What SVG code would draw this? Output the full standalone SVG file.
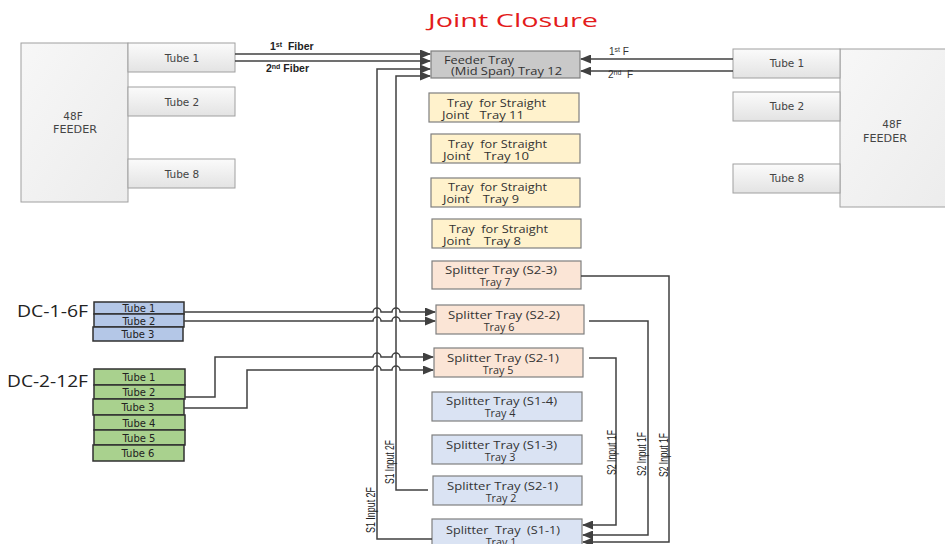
<svg xmlns="http://www.w3.org/2000/svg" width="945" height="544" viewBox="0 0 945 544">
<defs>
<linearGradient id="gGrey" x1="0" y1="0" x2="0" y2="1">
<stop offset="0" stop-color="#fbfbfb"/><stop offset="1" stop-color="#e3e3e3"/>
</linearGradient>
<linearGradient id="gBig" x1="0" y1="0" x2="1" y2="1">
<stop offset="0" stop-color="#f7f7f7"/><stop offset="1" stop-color="#ececec"/>
</linearGradient>
<marker id="arr" markerUnits="userSpaceOnUse" markerWidth="11" markerHeight="9" refX="10" refY="4.5" orient="auto">
<path d="M0,0 L11,4.5 L0,9 z" fill="#404040"/>
</marker>
</defs>
<style>
text{font-family:"Open Sans","Liberation Sans",sans-serif;fill:#333;white-space:pre}
.grey{fill:url(#gGrey);stroke:#a0a0a0;stroke-width:1}
.big{fill:url(#gBig);stroke:#a0a0a0;stroke-width:1}
.gt{font-family:"DejaVu Sans",sans-serif;font-size:10.5px;fill:#444;text-anchor:middle}
.tr{stroke:#7f7f7f;stroke-width:1.2}
.ft{fill:#c9c9c9}
.yl{fill:#fff2cc}
.pc{fill:#fbe5d6}
.bl{fill:#dae3f3}
.tt{font-size:10.8px;fill:#333}
.ttc{font-size:10.8px;fill:#333;text-anchor:middle}
.dc1{fill:#b4c7e7;stroke:#303030;stroke-width:1.5}
.dc2{fill:#a9d18e;stroke:#303030;stroke-width:1.5}
.dt{font-family:"DejaVu Sans",sans-serif;font-size:10px;fill:#222;text-anchor:middle}
.dl{font-size:17px;fill:#222}
.lna{fill:none;stroke:#404040;stroke-width:1.5;marker-end:url(#arr)}
.fl{font-family:"Liberation Sans",sans-serif;font-size:10.5px;font-weight:bold;fill:#222}
.fr{font-family:"Liberation Sans",sans-serif;font-size:10px;fill:#333}
.vl{font-family:"Liberation Sans",sans-serif;font-size:12px;fill:#222}
</style>

<text x="513" y="27" text-anchor="middle" font-size="19" style="fill:#e31b1b" textLength="170" lengthAdjust="spacingAndGlyphs">Joint Closure</text>

<g id="feeder-left">
<rect x="21" y="43" width="107" height="159" class="big"/>
<text x="73" y="120" class="gt">48F</text>
<text x="75" y="133" class="gt" textLength="44" lengthAdjust="spacingAndGlyphs">FEEDER</text>
</g>
<g id="left-tube1"><rect x="128" y="43" width="107" height="29" class="grey"/><text x="182" y="62" class="gt">Tube 1</text></g>
<g id="left-tube2"><rect x="128" y="87" width="107" height="29" class="grey"/><text x="182" y="106" class="gt">Tube 2</text></g>
<g id="left-tube8"><rect x="128" y="159" width="107" height="29" class="grey"/><text x="182" y="178" class="gt">Tube 8</text></g>

<g id="feeder-right">
<rect x="840" y="49" width="110" height="158" class="big"/>
<text x="892" y="128" class="gt">48F</text>
<text x="885" y="142" class="gt" textLength="44" lengthAdjust="spacingAndGlyphs">FEEDER</text>
</g>
<g id="right-tube1"><rect x="733" y="49" width="107" height="29" class="grey"/><text x="787" y="67" class="gt">Tube 1</text></g>
<g id="right-tube2"><rect x="733" y="92" width="107" height="29" class="grey"/><text x="787" y="110" class="gt">Tube 2</text></g>
<g id="right-tube8"><rect x="733" y="164" width="107" height="29" class="grey"/><text x="787" y="182" class="gt">Tube 8</text></g>

<g id="tray12"><rect x="431" y="51" width="149" height="27" class="tr ft"/>
<text x="444" y="64" class="tt" textLength="70" lengthAdjust="spacingAndGlyphs">Feeder Tray</text>
<text x="451" y="75" class="tt" textLength="111" lengthAdjust="spacingAndGlyphs">(Mid Span) Tray 12</text></g>

<g id="tray11"><rect x="429" y="93" width="150" height="29" class="tr yl"/>
<text x="447" y="107" class="tt" textLength="99" lengthAdjust="spacingAndGlyphs">Tray  for Straight</text>
<text x="442" y="119" class="tt" textLength="82" lengthAdjust="spacingAndGlyphs">Joint   Tray 11</text></g>
<g id="tray10"><rect x="431" y="134" width="149" height="29" class="tr yl"/>
<text x="448" y="148" class="tt" textLength="99" lengthAdjust="spacingAndGlyphs">Tray  for Straight</text>
<text x="443" y="160" class="tt" textLength="86" lengthAdjust="spacingAndGlyphs">Joint    Tray 10</text></g>
<g id="tray9"><rect x="431" y="178" width="149" height="29" class="tr yl"/>
<text x="448" y="191" class="tt" textLength="99" lengthAdjust="spacingAndGlyphs">Tray  for Straight</text>
<text x="443" y="203" class="tt" textLength="76" lengthAdjust="spacingAndGlyphs">Joint    Tray 9</text></g>
<g id="tray8"><rect x="432" y="219" width="149" height="29" class="tr yl"/>
<text x="449" y="233" class="tt" textLength="99" lengthAdjust="spacingAndGlyphs">Tray  for Straight</text>
<text x="443" y="245" class="tt" textLength="78" lengthAdjust="spacingAndGlyphs">Joint    Tray 8</text></g>

<g id="tray7"><rect x="432" y="261" width="149" height="28" class="tr pc"/>
<text x="445" y="274" class="tt" textLength="112" lengthAdjust="spacingAndGlyphs">Splitter Tray (S2-3)</text>
<text x="495" y="286" class="ttc">Tray 7</text></g>
<g id="tray6"><rect x="436" y="305" width="148" height="29" class="tr pc"/>
<text x="448" y="319" class="tt" textLength="112" lengthAdjust="spacingAndGlyphs">Splitter Tray (S2-2)</text>
<text x="499" y="331" class="ttc">Tray 6</text></g>
<g id="tray5"><rect x="434" y="348" width="149" height="29" class="tr pc"/>
<text x="447" y="362" class="tt" textLength="112" lengthAdjust="spacingAndGlyphs">Splitter Tray (S2-1)</text>
<text x="498" y="374" class="ttc">Tray 5</text></g>
<g id="tray4"><rect x="432" y="392" width="150" height="29" class="tr bl"/>
<text x="446" y="405" class="tt" textLength="111" lengthAdjust="spacingAndGlyphs">Splitter Tray (S1-4)</text>
<text x="500" y="417" class="ttc">Tray 4</text></g>
<g id="tray3"><rect x="432" y="435" width="150" height="29" class="tr bl"/>
<text x="446" y="449" class="tt" textLength="111" lengthAdjust="spacingAndGlyphs">Splitter Tray (S1-3)</text>
<text x="500" y="461" class="ttc">Tray 3</text></g>
<g id="tray2"><rect x="433" y="476" width="149" height="29" class="tr bl"/>
<text x="447" y="490" class="tt" textLength="111" lengthAdjust="spacingAndGlyphs">Splitter Tray (S2-1)</text>
<text x="501" y="502" class="ttc">Tray 2</text></g>
<g id="tray1"><rect x="432" y="519" width="150" height="30" class="tr bl"/>
<text x="446" y="534" class="tt" textLength="114" lengthAdjust="spacingAndGlyphs">Splitter  Tray  (S1-1)</text>
<text x="501" y="546" class="ttc">Tray 1</text></g>

<g id="dc1">
<text x="17" y="317" class="dl" textLength="71" lengthAdjust="spacingAndGlyphs">DC-1-6F</text>
<rect x="94" y="302" width="90" height="12" class="dc1"/><text x="139" y="312" class="dt">Tube 1</text>
<rect x="94" y="314" width="90" height="13" class="dc1"/><text x="139" y="324.5" class="dt">Tube 2</text>
<rect x="93" y="327" width="90" height="14" class="dc1"/><text x="138" y="338" class="dt">Tube 3</text>
</g>
<g id="dc2">
<text x="7" y="387" class="dl" textLength="81" lengthAdjust="spacingAndGlyphs">DC-2-12F</text>
<rect x="94" y="369" width="91" height="16" class="dc2"/><text x="139" y="381" class="dt">Tube 1</text>
<rect x="94" y="385" width="91" height="14" class="dc2"/><text x="139" y="396" class="dt">Tube 2</text>
<rect x="93" y="399" width="91" height="16" class="dc2"/><text x="138" y="411" class="dt">Tube 3</text>
<rect x="94" y="415" width="91" height="15" class="dc2"/><text x="139" y="426.5" class="dt">Tube 4</text>
<rect x="94" y="430" width="91" height="15" class="dc2"/><text x="139" y="441.5" class="dt">Tube 5</text>
<rect x="93" y="445" width="91" height="16" class="dc2"/><text x="138" y="457" class="dt">Tube 6</text>
</g>

<g id="connectors">
<path d="M235 54 H430" class="lna"/>
<path d="M235 61 H430" class="lna"/>
<path d="M432 539 H377 V69 H430" class="lna"/>
<path d="M428 490 H396 V76 H430" class="lna"/>
<path d="M733 59 H581" class="lna"/>
<path d="M733 71 H581" class="lna"/>
<path d="M184 312 H373 a4 4 0 0 1 8 0 H392 a4 4 0 0 1 8 0 H435" class="lna"/>
<path d="M184 321 H373 a4 4 0 0 1 8 0 H392 a4 4 0 0 1 8 0 H435" class="lna"/>
<path d="M185 397 H215 V357 H373 a4 4 0 0 1 8 0 H392 a4 4 0 0 1 8 0 H433" class="lna"/>
<path d="M184 408 H247 V370 H373 a4 4 0 0 1 8 0 H392 a4 4 0 0 1 8 0 H433" class="lna"/>
<path d="M589 358 H616 V525 H583" class="lna"/>
<path d="M589 321 H648 V535 H583" class="lna"/>
<path d="M581 276 H669 V542 H583" class="lna"/>
<text x="270" y="50" class="fl">1<tspan font-size="7" dy="-3">st</tspan><tspan dy="3">  Fiber</tspan></text>
<text x="266" y="72" class="fl">2<tspan font-size="7" dy="-3">nd</tspan><tspan dy="3"> Fiber</tspan></text>
<text x="609" y="55" class="fr">1<tspan font-size="7" dy="-3">st</tspan><tspan dy="3"> F</tspan></text>
<text x="608" y="78" class="fr">2<tspan font-size="7" dy="-3">nd</tspan><tspan dy="3">  F</tspan></text>
<text transform="translate(394,484) rotate(-90)" class="vl" textLength="44" lengthAdjust="spacingAndGlyphs">S1 Input 2F</text>
<text transform="translate(375,533) rotate(-90)" class="vl" textLength="46" lengthAdjust="spacingAndGlyphs">S1 Input 2F</text>
<text transform="translate(616,475) rotate(-90)" class="vl" textLength="45" lengthAdjust="spacingAndGlyphs">S2 Input 1F</text>
<text transform="translate(646,476) rotate(-90)" class="vl" textLength="44" lengthAdjust="spacingAndGlyphs">S2 Input 1F</text>
<text transform="translate(668,477) rotate(-90)" class="vl" textLength="44" lengthAdjust="spacingAndGlyphs">S2 Input 1F</text>
</g>
</svg>
